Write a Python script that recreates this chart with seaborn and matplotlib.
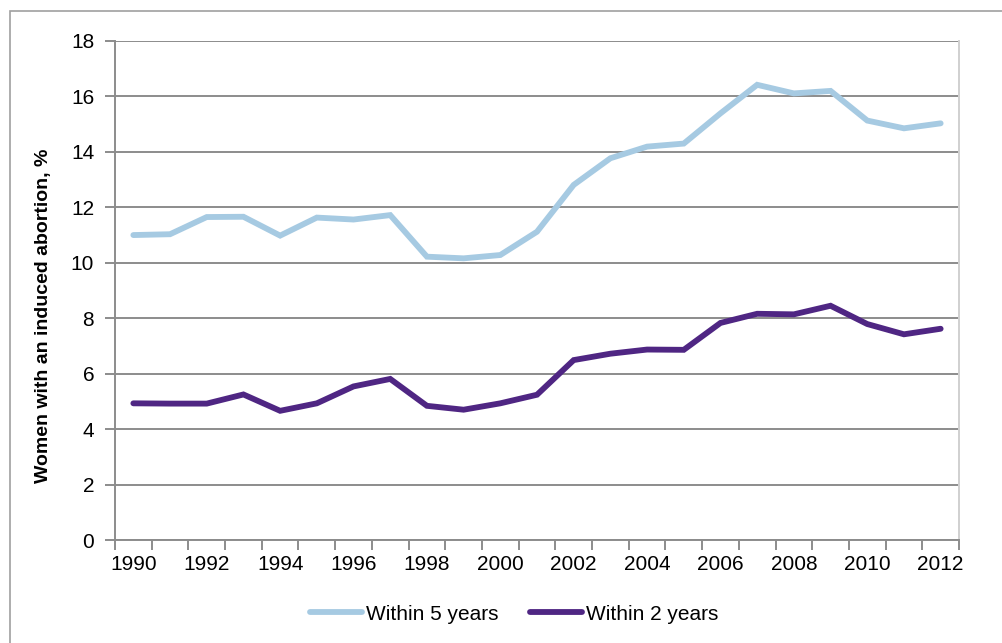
import numpy as np
import pandas as pd
import matplotlib
matplotlib.use("Agg")
import matplotlib.pyplot as plt
import seaborn as sns
from matplotlib.patches import Rectangle

years = list(range(1990, 2013))
within_5_years = [11.00, 11.03, 11.65, 11.66, 10.98, 11.63, 11.56, 11.72, 10.22, 10.16,
                  10.28, 11.12, 12.81, 13.77, 14.19, 14.30, 15.39, 16.42, 16.11, 16.20,
                  15.13, 14.85, 15.03]
within_2_years = [4.93, 4.92, 4.92, 5.25, 4.66, 4.93, 5.54, 5.81, 4.84, 4.70,
                  4.93, 5.24, 6.49, 6.72, 6.87, 6.86, 7.83, 8.16, 8.14, 8.45,
                  7.79, 7.42, 7.62]
series_names = ["Within 5 years", "Within 2 years"]
series_colors = ["#a6cae2", "#4f2683"]
x_tick_years = list(range(1990, 2013, 2))
y_ticks = list(range(0, 19, 2))

df = pd.DataFrame({
    "idx": list(range(len(years))) * 2,
    "year": years * 2,
    "value": within_5_years + within_2_years,
    "series": [series_names[0]] * len(years) + [series_names[1]] * len(years),
})

sns.set_theme(style="white")
plt.rcParams["font.family"] = ["Liberation Sans", "DejaVu Sans"]
plt.rcParams["text.color"] = "black"
plt.rcParams["axes.labelcolor"] = "black"
plt.rcParams["xtick.labelcolor"] = "black"
plt.rcParams["ytick.labelcolor"] = "black"

W, H = 1002, 643
fig = plt.figure(figsize=(W / 100, H / 100), dpi=100)
ax = fig.add_axes([115 / W, 1 - 540 / H, (959 - 115) / W, (540 - 41) / H])

# outer chart frame
fig.patches.append(Rectangle((10 / W, -0.1), 1.2, 1.1 - 11 / H, transform=fig.transFigure,
                             fill=False, edgecolor="#a0a0a0", linewidth=1.2, zorder=0))

sns.lineplot(data=df, x="idx", y="value", hue="series", hue_order=series_names,
             palette=series_colors, linewidth=4.2, ax=ax, legend=False,
             solid_capstyle="round", solid_joinstyle="miter")

ax.set_xlim(-0.5, len(years) - 0.5)
ax.set_ylim(0, 18)
ax.set_yticks(y_ticks)
ax.set_yticklabels([str(v) for v in y_ticks], fontsize=15)
ax.yaxis.grid(True, color="#8c8c8c", linewidth=1.4)
ax.set_axisbelow(True)

# category boundaries carry tick marks, every other category carries a label
ax.set_xticks(np.arange(-0.5, len(years), 1.0))
ax.set_xticklabels([])
label_pos = [years.index(y) for y in x_tick_years]
ax.set_xticks(label_pos, minor=True)
ax.set_xticklabels([str(y) for y in x_tick_years], minor=True, fontsize=15)
ax.tick_params(axis="x", which="major", direction="out", length=7, width=1.4,
               color="#8c8c8c", bottom=True)
ax.tick_params(axis="x", which="minor", length=0, pad=11, bottom=True)
ax.tick_params(axis="y", direction="out", length=7, width=1.4, color="#8c8c8c",
               left=True, pad=8)

for side in ["left", "bottom"]:
    ax.spines[side].set_color("#8c8c8c")
    ax.spines[side].set_linewidth(1.4)
ax.spines["right"].set_color("#d0d0d0")
ax.spines["right"].set_linewidth(1.4)
ax.spines["top"].set_visible(False)

ax.set_xlabel("")
ax.set_ylabel("Women with an induced abortion, %", fontsize=14, fontweight="bold")
ax.yaxis.set_label_coords((52 - 115) / 844, (540 - 316) / 499)

handles = [plt.Line2D([], [], color=c, linewidth=4.2, solid_capstyle="round")
           for c in series_colors]
fig.legend(handles, series_names, loc="center", bbox_to_anchor=(514 / W, 1 - 614 / H),
           ncol=2, frameon=False, fontsize=15, handlelength=2.5, handletextpad=0.2,
           columnspacing=1.5)

fig.savefig("out.png", dpi=100)
